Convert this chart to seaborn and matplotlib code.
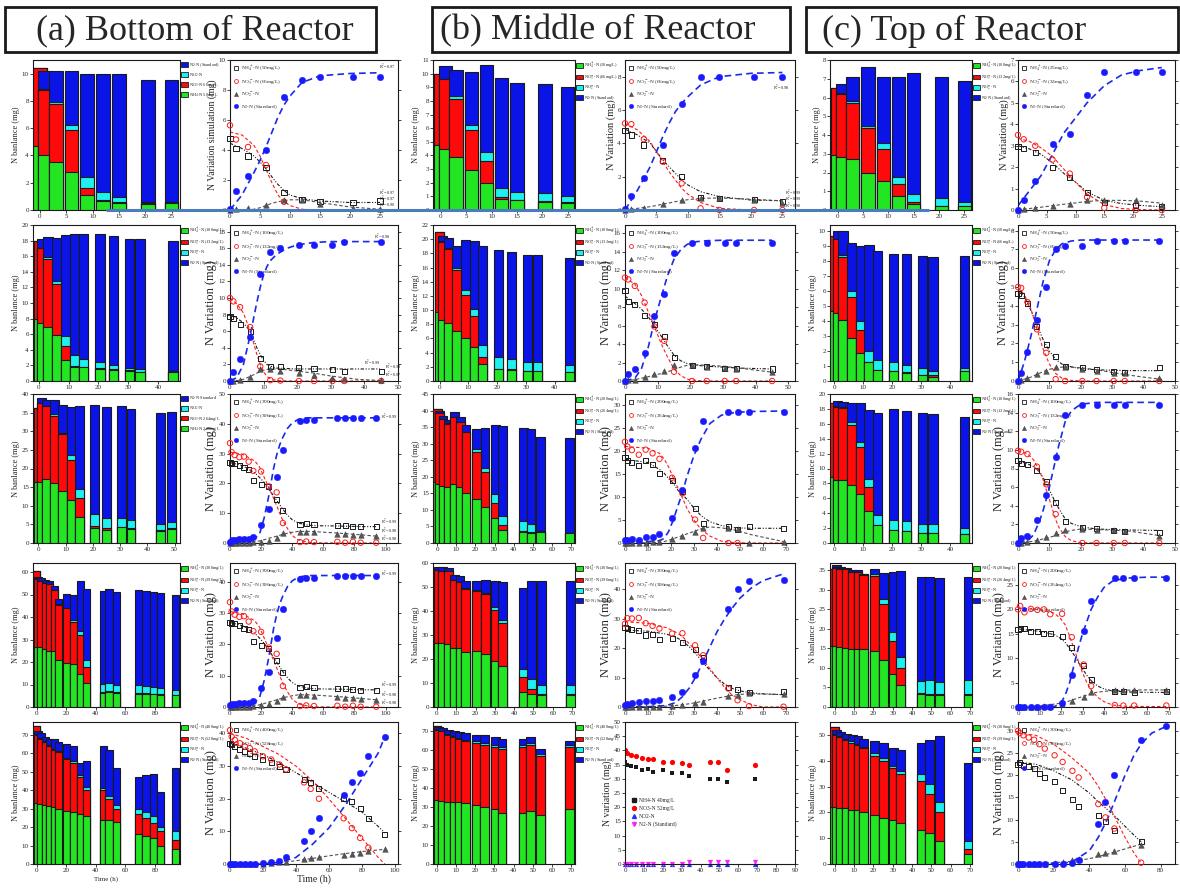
import numpy as np
import matplotlib
matplotlib.use("Agg")
import matplotlib.pyplot as plt
from matplotlib.patches import Patch, Rectangle
from matplotlib.lines import Line2D
import seaborn as sns

sns.set_theme(style="ticks")
plt.rcParams['font.family'] = ['Liberation Serif', 'DejaVu Sans']
plt.rcParams['mathtext.fontset'] = 'stix'

nan = np.nan
# ---------------- time axes ----------------
T9 = [0, 1, 3, 6, 9, 12, 15, 20.5, 25]
T12 = [0, 1, 3, 6, 9, 12, 15, 20.5, 25, 30.5, 34, 45]
T13 = [0, 1, 3, 6, 9, 12, 15, 20.5, 25, 30.5, 34, 45, 49]
T15 = [0, 1, 3, 6, 9, 12, 15, 20.5, 25, 30.5, 34, 45, 49, 54, 69]
T19 = [0, 1, 3, 6, 9, 12, 15, 20, 25, 30, 34, 45, 49, 54, 69, 74, 79, 84, 94]
T16 = [0, 1, 3, 6, 9, 12, 15, 20.5, 25, 30.5, 34, 45, 49, 54, 69, 83]

# ---------------- bar panels: cumulative tops (NH4, NO3, NO2, N2) ----------------
BAR_A1_NH4 = [4.7, 4.0, 3.55, 2.8, 1.1, 0.65, 0.55, 0.45, 0.55]
BAR_A1_NO3 = [10.4, 8.8, 7.75, 5.85, 1.65, 0.72, 0.6, 0.55, 0.6]
BAR_A1_NO2 = [10.4, 8.85, 7.95, 6.2, 2.4, 1.3, 0.95, 0.6, 0.62]
BAR_A1_N2 = [10.4, 10.2, 10.2, 10.2, 10.0, 10.0, 9.95, 9.55, 9.55]

BAR_B1_NH4 = [4.75, 4.5, 3.9, 2.95, 2.0, 0.8, 0.7, 0.6, 0.55]
BAR_B1_NO3 = [10.0, 9.6, 8.15, 5.9, 3.6, 0.92, 0.72, 0.65, 0.57]
BAR_B1_NO2 = [10.0, 9.62, 8.35, 6.2, 4.25, 1.6, 1.3, 1.25, 1.0]
BAR_B1_N2 = [10.0, 10.55, 10.25, 10.1, 10.6, 9.65, 9.35, 9.25, 9.05]

BAR_C1_NH4 = [2.95, 2.85, 2.7, 2.0, 1.55, 0.77, 0.3, 0.2, 0.2]
BAR_C1_NO3 = [6.5, 6.2, 5.7, 4.35, 3.25, 1.37, 0.42, 0.22, 0.22]
BAR_C1_NO2 = [6.5, 6.25, 5.8, 4.5, 3.55, 1.75, 0.87, 0.65, 0.45]
BAR_C1_N2 = [6.5, 6.7, 7.1, 7.65, 7.1, 7.1, 7.3, 7.1, 6.9]

BAR_A2_NH4 = [8.0, 7.5, 6.9, 5.9, 2.7, 1.75, 1.75, 1.6, 1.35, 1.25, 1.1, 1.2]
BAR_A2_NO3 = [17.9, 17.0, 15.7, 12.5, 4.45, 1.9, 1.75, 1.65, 1.5, 1.4, 1.2, 1.22]
BAR_A2_NO2 = [17.9, 17.1, 15.85, 12.85, 5.8, 3.3, 2.8, 2.5, 2.1, 1.7, 1.5, 1.22]
BAR_A2_N2 = [17.9, 18.2, 18.45, 18.3, 18.75, 18.9, 18.85, 18.9, 18.6, 18.25, 18.25, 18.0]

BAR_B2_NH4 = [9.8, 8.6, 8.25, 7.1, 6.1, 4.75, 2.4, 1.7, 1.6, 1.35, 1.35, 1.25]
BAR_B2_NO3 = [21.0, 19.6, 18.6, 15.6, 12.1, 9.1, 3.4, 1.75, 1.65, 1.4, 1.4, 1.3]
BAR_B2_NO2 = [21.0, 19.7, 18.75, 16.0, 12.9, 10.2, 5.1, 3.35, 3.1, 2.7, 2.65, 2.2]
BAR_B2_N2 = [21.0, 20.5, 20.1, 19.0, 19.9, 19.7, 19.0, 18.45, 18.2, 17.8, 17.75, 17.3]

BAR_C2_NH4 = [4.65, 4.55, 4.05, 2.85, 1.85, 1.25, 0.72, 0.65, 0.55, 0.4, 0.3, 0.65]
BAR_C2_NO3 = [9.65, 9.45, 8.25, 5.6, 3.4, 1.3, 0.75, 0.68, 0.6, 0.42, 0.4, 0.7]
BAR_C2_NO2 = [9.65, 9.5, 8.4, 6.0, 4.0, 2.0, 1.4, 1.25, 1.05, 0.85, 0.7, 0.85]
BAR_C2_N2 = [9.65, 10.0, 10.0, 9.2, 9.0, 9.05, 8.65, 8.5, 8.5, 8.35, 8.25, 8.35]

BAR_A3_NH4 = [16.5, 16.5, 17.3, 16.0, 14.0, 11.5, 7.1, 3.9, 3.6, 4.2, 3.8, 3.3, 3.8]
BAR_A3_NO3 = [36.2, 37.5, 36.7, 34.0, 29.2, 22.3, 12.1, 4.5, 3.9, 4.3, 4.0, 3.5, 4.0]
BAR_A3_NO2 = [36.2, 37.6, 36.8, 34.5, 29.6, 23.5, 14.5, 7.8, 6.8, 6.8, 6.1, 5.1, 5.6]
BAR_A3_N2 = [36.2, 38.9, 38.5, 38.5, 37.0, 36.5, 36.7, 37.0, 36.5, 36.7, 36.0, 35.0, 35.3]

BAR_B3_NH4 = [18.5, 17.8, 17.3, 16.8, 17.8, 16.8, 15.0, 13.2, 10.8, 7.4, 4.0, 3.3, 3.0, 3.3, 3.0]
BAR_B3_NO3 = [40.5, 39.2, 37.5, 36.0, 38.0, 36.5, 33.5, 27.5, 21.5, 12.2, 5.3, 3.5, 3.2, 3.4, 3.1]
BAR_B3_NO2 = [40.5, 39.3, 37.6, 36.1, 38.1, 36.6, 33.6, 28.3, 22.8, 14.9, 8.3, 6.5, 5.8, 3.5, 3.1]
BAR_B3_N2 = [40.5, 39.8, 38.5, 37.0, 39.5, 38.0, 35.5, 34.3, 34.7, 35.7, 35.2, 34.8, 34.3, 32.0, 31.7]

BAR_C3_NH4 = [8.8, 8.5, 8.4, 7.75, 6.6, 4.35, 2.35, 1.7, 1.6, 1.3, 1.3, 1.15]
BAR_C3_NO3 = [18.8, 18.3, 18.1, 15.9, 12.95, 7.5, 2.4, 1.75, 1.62, 1.35, 1.32, 1.2]
BAR_C3_NO2 = [18.8, 18.4, 18.2, 16.3, 13.5, 8.55, 3.75, 3.15, 2.9, 2.6, 2.5, 2.05]
BAR_C3_N2 = [18.8, 19.05, 18.9, 18.85, 18.75, 17.8, 17.5, 18.0, 17.75, 17.45, 17.3, 16.9]

BAR_A4_NH4 = [27, 26.5, 26.5, 25.8, 25.0, 24.8, 21.0, 19.5, 19.0, 14.5, 10.8, 6.2, 6.5, 6.3, 5.9, 5.8, 5.7, 5.5, 5.4]
BAR_A4_NO3 = [60.5, 57.0, 56.0, 55.0, 54.5, 52.0, 45.5, 43.8, 37.8, 31.8, 17.7, 6.5, 7.2, 6.5, 6.3, 6.2, 6.0, 5.7, 5.5]
BAR_A4_NO2 = [60.5, 57.2, 56.1, 55.1, 54.6, 52.1, 45.6, 44.2, 38.5, 33.8, 21.0, 10.2, 10.8, 9.7, 9.7, 9.3, 8.9, 8.3, 7.7]
BAR_A4_N2 = [60.5, 57.8, 57.3, 56.6, 55.8, 54.0, 47.8, 50.3, 50.0, 55.8, 52.3, 51.5, 52.4, 51.3, 52.0, 51.4, 51.3, 50.5, 50.0]

BAR_B4_NH4 = [27.0, 26.8, 26.5, 26.3, 24.5, 24.7, 22.8, 23.3, 22.0, 19.3, 17.0, 6.2, 5.3, 5.0, 5.2]
BAR_B4_NO3 = [55.5, 57.0, 56.5, 56.5, 52.8, 52.0, 49.3, 48.3, 47.0, 40.5, 34.8, 12.7, 7.6, 5.5, 5.6]
BAR_B4_NO2 = [55.5, 57.1, 56.6, 56.6, 52.9, 52.1, 49.4, 48.6, 47.5, 41.5, 36.3, 16.0, 11.8, 9.2, 9.2]
BAR_B4_N2 = [55.5, 58.5, 58.5, 58.0, 55.0, 54.5, 52.5, 52.3, 52.8, 52.3, 52.0, 49.5, 52.3, 52.3, 52.5]

BAR_C4_NH4 = [15.5, 15.7, 15.3, 15.2, 14.8, 14.8, 14.7, 14.3, 12.0, 8.5, 5.6, 3.2, 3.0, 3.0, 3.0]
BAR_C4_NO3 = [35.3, 35.5, 35.3, 35.2, 34.5, 34.5, 33.8, 33.5, 26.3, 16.8, 10.0, 3.6, 3.3, 3.2, 3.4]
BAR_C4_NO2 = [35.3, 35.7, 35.6, 35.3, 34.6, 34.6, 33.9, 34.0, 27.5, 19.2, 12.8, 6.6, 6.8, 6.5, 6.8]
BAR_C4_N2 = [35.3, 36.4, 35.8, 35.6, 34.9, 34.9, 34.1, 35.2, 34.2, 34.6, 34.7, 33.2, 33.2, 33.0, 33.2]

BAR_A5_NH4 = [33, 33, 32.5, 32, 31.5, 31, 30, 29, 28, 27, 26, 24, 24, 23, 16, 15, 14, 10, 8]
BAR_A5_NO3 = [75, 70, 68, 66, 64, 62, 61, 57, 55, 47, 40, 40, 35, 30, 27, 25, 22, 18, 13]
BAR_A5_NO2 = [75, 70.5, 68.5, 66.5, 64.5, 62.5, 61.5, 57.5, 56, 48, 42, 41, 37, 32, 30, 28, 26, 20, 18]
BAR_A5_N2 = [75, 72, 71, 69, 68, 68, 66, 65, 64, 55, 56, 64, 62, 52, 47, 48, 49, 39, 52]

BAR_B5_NH4 = [35, 34, 33.5, 33, 33, 32.5, 32, 31, 30, 29, 27, 27, 28, 26, 29]
BAR_B5_NO3 = [73, 71, 70, 68, 67, 66, 65, 64, 63, 62, 61, 62, 63, 57, 62]
BAR_B5_NO2 = [73, 71.5, 70.5, 68.5, 67.5, 66.5, 65.5, 65, 64, 63, 62, 63, 64, 58, 63]
BAR_B5_N2 = [73, 72.5, 72, 71, 70, 69.5, 69, 68, 68, 67, 66, 66, 67, 61, 65]

BAR_C5_NH4 = [22, 22, 21.5, 21.5, 21, 21, 20, 19, 18, 17, 16, 13, 12, 9, 4]
BAR_C5_NO3 = [53, 50, 49, 48, 47, 46, 45, 42, 40, 37, 35, 32, 27, 20, 6]
BAR_C5_NO2 = [53, 50.5, 49.5, 48.5, 47.5, 46.5, 45.5, 43, 41, 38, 36, 35, 31, 24, 9]
BAR_C5_N2 = [53, 52, 51, 50.5, 50, 49.5, 48.5, 47.5, 47, 45, 44, 47, 48, 49.5, 39]

# ---------------- line panels: measured points ----------------
LN_A1_NH4 = [4.75, 4.1, 3.6, 2.85, 1.15, 0.7, 0.55, 0.5, 0.6]
LN_A1_NO3 = [5.65, 4.7, 4.2, 3.0, 0.55, nan, nan, nan, nan]
LN_A1_NO2 = [0.0, 0.08, 0.15, 0.35, 0.65, 0.65, 0.4, 0.15, 0.05]
LN_A1_N2 = [0.1, 1.3, 2.25, 4.0, 7.55, 8.65, 8.9, 8.9, 8.9]

LN_B1_NH4 = [4.75, 4.5, 3.9, 2.95, 2.0, 0.75, 0.7, 0.62, 0.5]
LN_B1_NO3 = [5.2, 5.15, 4.25, 2.9, 1.6, 0.1, 0, 0, 0]
LN_B1_NO2 = [0, 0.05, 0.15, 0.35, 0.6, 0.75, 0.7, 0.6, 0.45]
LN_B1_N2 = [0.05, 0.85, 1.9, 3.9, 6.35, 8.0, 8.0, 8.0, 8.0]

LN_C1_NH4 = [2.95, 2.85, 2.7, 2.0, 1.5, 0.8, 0.35, 0.2, 0.15]
LN_C1_NO3 = [3.5, 3.3, 3.0, 2.35, 1.7, 0.6, 0.1, 0, 0]
LN_C1_NO2 = [0, 0.05, 0.1, 0.2, 0.3, 0.45, 0.45, 0.45, 0.25]
LN_C1_N2 = [0, 0.45, 1.35, 3.1, 3.55, 5.35, 6.45, 6.45, 6.45]

LN_A2_NH4 = [7.8, 7.5, 6.8, 6.0, 2.7, 1.8, 1.8, 1.65, 1.45, 1.35, 1.2, 1.2]
LN_A2_NO3 = [10.0, 9.6, 8.9, 6.5, 1.75, 0.1, 0.05, 0, 0, 0, 0, 0]
LN_A2_NO2 = [0, 0, 0.15, 0.45, 1.4, 1.4, 1.2, 1.0, 0.75, 0.4, 0.2, 0.1]
LN_A2_N2 = [0, 1.1, 2.6, 5.3, 12.9, 15.55, 16.0, 16.35, 16.45, 16.45, 16.75, 16.75]

LN_B2_NH4 = [9.8, 8.6, 8.3, 7.1, 6.1, 4.8, 2.5, 1.7, 1.6, 1.4, 1.35, 1.3]
LN_B2_NO3 = [11.2, 11.0, 10.3, 8.5, 5.9, 4.35, 1.0, 0, 0, 0, 0, 0]
LN_B2_NO2 = [0, 0.1, 0.15, 0.4, 0.8, 1.1, 1.7, 1.7, 1.5, 1.4, 1.3, 1.0]
LN_B2_N2 = [0, 0.8, 1.3, 3.0, 7.0, 9.4, 13.85, 15.0, 15.0, 15.0, 15.0, 15.0]

LN_C2_NH4 = [4.65, 4.55, 4.1, 2.9, 1.95, 1.3, 0.75, 0.7, 0.6, 0.5, 0.45, 0.7]
LN_C2_NO3 = [5.0, 4.95, 4.2, 2.75, 1.5, 0.1, 0, 0, 0, 0, 0, 0]
LN_C2_NO2 = [0, 0.05, 0.15, 0.35, 0.55, 0.72, 0.72, 0.65, 0.55, 0.45, 0.4, 0.15]
LN_C2_N2 = [0, 0.45, 1.55, 3.25, 5.0, 7.0, 7.2, 7.2, 7.45, 7.45, 7.45, 7.45]

LN_A3_NH4 = [27, 26.8, 26.7, 26.0, 25.2, 24.8, 21.0, 19.7, 18.8, 14.7, 11.0, 6.2, 6.5, 6.3, 5.8, 5.8, 5.7, 5.4, 5.4]
LN_A3_NO3 = [33.5, 30.5, 29.5, 28.8, 29.0, 27.3, 24.2, 24.0, 19.0, 17.0, 6.7, 0.3, 0.5, 0.3, 0.4, 0.1, 0.4, 0.1, 0.1]
LN_A3_NO2 = [0, 0, 0, 0, 0, 0.1, 0.2, 0.5, 0.8, 1.8, 3.3, 3.8, 3.8, 3.6, 3.1, 3.0, 2.8, 2.7, 2.2]
LN_A3_N2 = [0.5, 0.9, 1.1, 1.2, 1.3, 1.3, 2.0, 6.0, 11.3, 22.2, 31.2, 41.0, 41.2, 41.2, 42.0, 42.0, 42.0, 42.0, 42.0]

LN_B3_NH4 = [18.5, 18.0, 17.6, 16.9, 18.0, 17.0, 15.1, 13.5, 11.3, 7.5, 4.3, 3.5, 3.0, 3.6, 3.2]
LN_B3_NO3 = [22.0, 21.0, 20.2, 19.2, 20.3, 19.5, 18.3, 14.2, 10.8, 5.1, 1.1, 0, 0, nan, nan]
LN_B3_NO2 = [0, 0.05, 0.1, 0.1, 0.1, 0.15, 0.2, 0.9, 1.5, 2.5, 3.3, 3.3, 3.1, 0.1, 0.2]
LN_B3_N2 = [0.6, 0.7, 0.8, 0.7, 1.2, 1.2, 1.9, 5.5, 11.5, 20.7, 26.6, 28.4, 28.4, 28.4, 28.4]

LN_C3_NH4 = [8.85, 8.5, 8.4, 7.8, 6.65, 4.4, 2.3, 1.7, 1.6, 1.35, 1.25, 1.1]
LN_C3_NO3 = [9.9, 9.8, 9.55, 8.2, 6.3, 3.1, nan, 0, 0, 0, 0, 0]
LN_C3_NO2 = [0, 0.05, 0.1, 0.3, 0.6, 1.1, 1.4, 1.45, 1.4, 1.35, 1.25, 0.8]
LN_C3_N2 = [0, 0.55, 0.75, 2.5, 5.2, 9.2, 13.7, 14.8, 14.8, 14.8, 14.8, 14.8]

LN_B4_NH4 = [27.0, 26.8, 26.4, 26.2, 24.5, 24.8, 22.8, 23.3, 22.0, 19.5, 17.0, 6.5, 5.8, 5.0, 5.3]
LN_B4_NO3 = [28.3, 30.2, 30.1, 30.3, 28.5, 27.6, 26.7, 25.0, 25.1, 21.0, 17.6, 6.3, 2.3, 0.3, 0.1]
LN_B4_NO2 = [0, 0, 0, 0.1, 0.1, 0.1, 0.1, 0.3, 0.6, 1.2, 1.8, 3.6, 4.2, 4.6, 4.3]
LN_B4_N2 = [0.8, 1.0, 1.3, 1.7, 2.0, 2.2, 2.5, 3.5, 5.2, 10.9, 15.5, 33.2, 40.0, 42.8, 43.3]

LN_C4_NH4 = [15.9, 16.0, 16.1, 15.5, 15.5, 15.0, 15.0, 14.5, 12.2, 8.6, 5.7, 3.2, 3.1, 3.0, 3.1]
LN_C4_NO3 = [20.0, 20.7, 19.4, 20.1, 19.9, 20.0, 19.0, 19.1, 14.3, 8.7, 4.3, 0.4, 0.3, 0.3, 0.3]
LN_C4_NO2 = [0, 0.1, 0.1, 0.1, 0.1, 0.15, 0.2, 0.7, 1.3, 2.1, 3.0, 3.4, 3.4, 3.5, 3.5]
LN_C4_N2 = [0, 0, 0, 0, 0, 0, 0, 0.9, 6.6, 15.5, 21.8, 26.4, 26.4, 26.4, 26.5]

LN_A5_NH4 = [37, 36.5, 36, 35, 34.5, 34, 33, 32, 31, 30, 29, 26, 25, 23, 20, 19, 17, 14, 9]
LN_A5_NO3 = [41, 39, 38, 37, 36, 35.5, 34.5, 33, 32, 30.5, 29, 25, 23, 20, 14, 11, 8, 5, nan]
LN_A5_NO2 = [0, 0, 0, 0, 0, 0, 0, 0.1, 0.2, 0.5, 0.7, 1.5, 1.8, 2.0, 2.8, 3.2, 3.5, 4.0, 4.5]
LN_A5_N2 = [0, 0, 0, 0, 0, 0, 0, 0.2, 0.5, 1.0, 2.0, 7, 10, 14, 21, 25, 28, 33, 39]

LN_B5_T = [0, 1, 3, 6, 9, 12, 15, 20, 25, 30, 34, 45, 49, 54, 69]
LN_B5_NH4 = [36, 35, 34.5, 34, 33, 33.5, 32.5, 33, 32, 32, 31, 30, 30, 29, 30]
LN_B5_NO3 = [40, 39, 38.5, 38, 37.5, 37, 37, 36, 36, 35.5, 35, 36, 36, 33, 35]
LN_B5_NO2 = [0, 0, 0, 0, 0, 0, 0, 0, 0, 0, 0, 0, 0, 0, 0]
LN_B5_N2 = [0, 0, 0, 0, 0, 0, 0, 0, 0, 0, 0.8, 0.8, 0.8, 0.8, 0.8]

LN_C5_NH4 = [22.5, 22.8, 22.3, 22.0, 21.5, 20.5, 19.5, 18.5, 16.5, 14.5, 13.0, 11.0, 9.5, 7.5, 5.0, nan]
LN_C5_NO3 = [30.0, 29.5, 29.0, 28.5, 28.0, 27.0, 26.0, 24.5, 23.0, 21.0, 19.5, 13.5, 10.5, 8.0, 0.3, nan]
LN_C5_NO2 = [0, 0, 0, 0, 0, 0, 0.1, 0.2, 0.4, 0.8, 1.2, 2.2, 2.5, 3.0, 4.2, nan]
LN_C5_N2 = [0, 0, 0, 0, 0, 0, 0, 0, 0.1, 0.3, 0.8, 9, 14, 20, 28, 31]

# ---------------- fitted curves (values at knots) ----------------
FIT_A1_T = [0, 2, 4, 5, 6, 7, 8, 9, 10, 12, 15, 20, 25]
FIT_A1_NH4 = [4.45, 4.1, 3.6, 3.2, 2.75, 2.2, 1.7, 1.3, 1.0, 0.75, 0.6, 0.5, 0.5]
FIT_A1_NO3 = [5.2, 5.0, 4.3, 3.6, 2.7, 1.8, 1.0, 0.55, 0.3, 0.05, 0, 0, 0]
FIT_A1_NO2 = [0, 0, 0.05, 0.15, 0.3, 0.45, 0.55, 0.62, 0.68, 0.68, 0.5, 0.2, 0.05]
FIT_A1_N2 = [0, 1.0, 2.5, 3.3, 4.2, 5.2, 6.2, 7.0, 7.6, 8.5, 8.95, 9.1, 9.15]

FIT_B1_T = [0, 2, 4, 5, 6, 7, 8, 9, 10, 12, 15, 20, 25]
FIT_B1_NH4 = [4.85, 4.5, 4.0, 3.5, 3.0, 2.6, 2.2, 1.8, 1.5, 1.1, 0.8, 0.6, 0.55]
FIT_B1_NO3 = [5.2, 4.8, 4.1, 3.5, 2.9, 2.3, 1.8, 1.3, 0.95, 0.45, 0.1, 0, 0]
FIT_B1_NO2 = [0, 0.1, 0.2, 0.27, 0.35, 0.42, 0.5, 0.56, 0.62, 0.7, 0.72, 0.65, 0.55]
FIT_B1_N2 = [0, 1.2, 2.6, 3.5, 4.4, 5.2, 5.9, 6.4, 6.8, 7.5, 8.0, 8.2, 8.25]

FIT_C1_T = [0, 2, 4, 6, 8, 10, 12, 15, 18, 21, 25]
FIT_C1_NH4 = [3.0, 2.85, 2.6, 2.2, 1.7, 1.3, 0.85, 0.45, 0.3, 0.22, 0.15]
FIT_C1_NO3 = [3.35, 3.2, 2.9, 2.5, 1.9, 1.3, 0.75, 0.25, 0.07, 0.02, 0]
FIT_C1_NO2 = [0, 0.07, 0.13, 0.2, 0.27, 0.33, 0.4, 0.45, 0.45, 0.42, 0.32]
FIT_C1_N2 = [0.2, 0.9, 1.6, 2.6, 3.6, 4.3, 5.0, 5.8, 6.3, 6.5, 6.65]

FIT_A2_T = [0, 2, 4, 6, 7, 8, 9, 10, 11, 12, 14, 17, 20, 25, 30, 38, 45]
FIT_A2_NH4 = [8.0, 7.6, 7.0, 6.0, 5.0, 4.0, 3.2, 2.5, 2.0, 1.8, 1.55, 1.5, 1.45, 1.45, 1.45, 1.45, 1.45]
FIT_A2_NO3 = [10.0, 9.3, 8.2, 6.0, 4.6, 3.2, 2.0, 1.1, 0.55, 0.25, 0.05, 0, 0, 0, 0, 0, 0]
FIT_A2_NO2 = [0, 0.05, 0.2, 0.55, 0.75, 0.95, 1.15, 1.3, 1.4, 1.45, 1.45, 1.35, 1.2, 0.95, 0.6, 0.2, 0.05]
FIT_A2_N2 = [0, 0.4, 2.0, 5.5, 7.5, 9.5, 11.3, 12.8, 13.8, 14.5, 15.3, 16.0, 16.4, 16.7, 16.8, 16.8, 16.8]

FIT_B2_T = [0, 3, 5, 7, 9, 11, 13, 15, 17, 19, 22, 25, 30, 35, 45]
FIT_B2_NH4 = [9.2, 8.4, 7.8, 7.0, 6.0, 4.9, 3.8, 2.8, 2.2, 1.9, 1.7, 1.6, 1.5, 1.4, 1.3]
FIT_B2_NO3 = [11.2, 10.5, 9.3, 7.6, 5.9, 4.1, 2.6, 1.3, 0.6, 0.2, 0.05, 0, 0, 0, 0]
FIT_B2_NO2 = [0, 0.15, 0.3, 0.45, 0.65, 0.8, 1.0, 1.25, 1.5, 1.7, 1.75, 1.7, 1.6, 1.4, 0.95]
FIT_B2_N2 = [0, 0.3, 1.3, 3.5, 6.5, 9.0, 11.4, 13.2, 14.2, 14.8, 15.1, 15.2, 15.25, 15.25, 15.25]

FIT_C2_T = [0, 2, 4, 6, 8, 10, 12, 14, 17, 20, 25, 30, 38, 45]
FIT_C2_NH4 = [4.8, 4.5, 3.8, 3.0, 2.2, 1.6, 1.15, 0.9, 0.75, 0.65, 0.6, 0.57, 0.55, 0.55]
FIT_C2_NO3 = [5.0, 4.6, 3.9, 2.8, 1.7, 0.9, 0.4, 0.15, 0.03, 0, 0, 0, 0, 0]
FIT_C2_NO2 = [0, 0.1, 0.2, 0.35, 0.5, 0.62, 0.7, 0.74, 0.74, 0.7, 0.6, 0.45, 0.25, 0.1]
FIT_C2_N2 = [0, 1.0, 2.3, 3.8, 5.3, 6.4, 7.0, 7.3, 7.45, 7.5, 7.5, 7.5, 7.5, 7.5]

FIT_A3_T = [0, 8, 16, 19, 22, 25, 28, 30, 32, 34, 37, 40, 44, 50, 55, 70, 85, 94]
FIT_A3_NH4 = [27.0, 26.0, 23.5, 22.0, 20.3, 18.2, 15.8, 14.3, 12.8, 11.3, 9.3, 7.8, 6.7, 6.0, 5.8, 5.7, 5.5, 5.5]
FIT_A3_NO3 = [30.5, 29.8, 27.5, 25.5, 22.0, 18.5, 15.0, 12.5, 10.0, 7.5, 4.8, 2.5, 1.0, 0.3, 0.05, 0, 0, 0]
FIT_A3_NO2 = [0, 0.1, 0.4, 0.7, 1.1, 1.6, 2.0, 2.3, 2.6, 2.9, 3.3, 3.6, 3.9, 3.9, 3.8, 3.3, 2.7, 2.3]
FIT_A3_N2 = [0.2, 0.6, 1.5, 3.0, 8.5, 16.0, 25.0, 29.5, 33.0, 35.5, 38.5, 40.3, 41.5, 42.0, 42.0, 42.0, 42.0, 42.0]

FIT_B3_T = [0, 10, 15, 17, 19, 21, 23, 25, 27, 30, 33, 37, 42, 48, 55, 69]
FIT_B3_NH4 = [18.2, 17.5, 16.0, 15.2, 14.0, 13.0, 11.5, 10.5, 9.5, 7.6, 6.0, 4.6, 3.8, 3.3, 3.2, 3.2]
FIT_B3_NO3 = [21.0, 20.6, 19.5, 18.3, 16.5, 14.2, 12.0, 9.8, 7.5, 5.0, 3.0, 1.5, 0.4, 0.05, 0, 0]
FIT_B3_NO2 = [0, 0.05, 0.1, 0.3, 0.6, 0.9, 1.3, 1.6, 2.0, 2.5, 3.1, 3.5, 3.3, 2.8, 1.8, 0.3]
FIT_B3_N2 = [0.3, 0.3, 0.5, 1.0, 2.5, 5.0, 8.0, 11.0, 14.5, 19.0, 22.5, 26.0, 27.8, 28.4, 28.6, 28.7]

FIT_C3_T = [0, 3, 5, 7, 8, 9, 10, 11, 12, 13, 15, 17, 20, 25, 35, 45]
FIT_C3_NH4 = [8.8, 8.5, 8.2, 7.6, 7.0, 6.4, 5.7, 5.0, 4.3, 3.7, 2.6, 2.1, 1.75, 1.5, 1.4, 1.35]
FIT_C3_NO3 = [9.9, 9.6, 8.9, 7.6, 6.8, 5.7, 4.7, 3.6, 2.5, 1.7, 0.7, 0.25, 0.03, 0, 0, 0]
FIT_C3_NO2 = [0, 0.1, 0.2, 0.35, 0.45, 0.55, 0.6, 0.7, 0.8, 0.9, 1.2, 1.35, 1.5, 1.45, 1.3, 0.8]
FIT_C3_N2 = [0, 0.2, 0.9, 2.5, 3.5, 4.7, 6.0, 7.5, 9.0, 10.5, 13.0, 14.2, 14.9, 15.1, 15.1, 15.1]

FIT_B4_T = [0, 10, 18, 22, 25, 28, 31, 34, 37, 40, 43, 46, 50, 55, 60, 69]
FIT_B4_NH4 = [26.2, 25.8, 24.8, 23.8, 22.5, 20.5, 18.0, 15.0, 12.5, 10.0, 8.0, 6.5, 5.5, 4.8, 4.5, 4.2]
FIT_B4_NO3 = [29.0, 28.5, 27.0, 25.5, 24.0, 21.5, 19.0, 16.0, 13.0, 10.0, 7.0, 4.5, 2.5, 0.8, 0.0, 0.0]
FIT_B4_NO2 = [0, 0.1, 0.3, 0.5, 0.8, 1.1, 1.5, 2.0, 2.5, 3.0, 3.4, 3.9, 4.3, 4.5, 4.4, 4.2]
FIT_B4_N2 = [0, 0.1, 0.5, 1.5, 3.5, 6.5, 10.5, 15.5, 20.5, 25.5, 29.5, 33.0, 37.0, 40.5, 43.0, 45.3]

FIT_C4_T = [0, 10, 17, 20, 22, 24, 26, 28, 30, 32, 34, 37, 40, 44, 50, 60, 69]
FIT_C4_NH4 = [16.0, 15.5, 14.8, 14.0, 13.2, 12.0, 10.7, 9.2, 7.8, 6.5, 5.4, 4.3, 3.7, 3.3, 3.1, 3.0, 3.0]
FIT_C4_NO3 = [20.2, 20.0, 19.2, 18.0, 16.8, 14.5, 12.0, 9.5, 7.0, 5.0, 3.5, 2.0, 1.1, 0.4, 0.15, 0.1, 0.1]
FIT_C4_NO2 = [0, 0.2, 0.6, 0.8, 1.0, 1.25, 1.55, 1.85, 2.15, 2.45, 2.75, 3.05, 3.2, 3.35, 3.45, 3.5, 3.5]
FIT_C4_N2 = [0, 0, 0.1, 0.8, 2.5, 5.0, 8.5, 12.0, 15.0, 17.5, 20.0, 22.5, 24.5, 25.8, 26.4, 26.6, 26.6]

FIT_A5_T = [0, 10, 20, 30, 40, 50, 60, 70, 80, 90, 94]
FIT_A5_NH4 = [37.0, 35.5, 33.5, 31.0, 28.0, 25.0, 22.0, 19.0, 16.0, 11.5, 9.5]
FIT_A5_NO3 = [40.0, 38.5, 36.0, 33.5, 30.0, 25.5, 20.0, 14.0, 8.0, 2.0, 0.0]
FIT_A5_NO2 = [0, 0, 0.1, 0.4, 1.0, 1.7, 2.5, 3.2, 3.8, 4.3, 4.5]
FIT_A5_N2 = [0, 0, 0.1, 0.5, 2.0, 6.0, 11.0, 18.0, 26.0, 34.0, 39.0]

FIT_C5_T = [0, 10, 20, 30, 40, 45, 50, 55, 60, 65, 69, 75, 83]
FIT_C5_NH4 = [23.0, 22.5, 21.0, 19.0, 16.0, 14.0, 12.3, 10.5, 8.5, 6.5, 5.0, nan, nan]
FIT_C5_NO3 = [29.5, 29.0, 27.0, 24.0, 20.5, 17.5, 14.0, 10.0, 6.0, 2.5, 0.2, nan, nan]
FIT_C5_NO2 = [0, 0.1, 0.3, 0.6, 1.2, 1.7, 2.2, 2.8, 3.4, 4.0, 4.5, nan, nan]
FIT_C5_N2 = [0, 0, 0.1, 0.4, 3.0, 6.0, 10.0, 15.0, 20.0, 24.5, 27.0, 29.5, 31.0]

# ---------------- legend text ----------------
def bar_labels(a, b):
    return [f"NH$_4^+$-N ({a}mg/L)", f"NO$_3^-$-N ({b}mg/L)", "NO$_2^-$-N", "N$_2$-N (Standard)"]

# ---------------- styling ----------------
W, H = 1180, 890
C_NH4, C_NO3, C_NO2, C_N2 = "#22e622", "#ff0a0a", "#1ef0f0", "#0a14e6"
fig = plt.figure(figsize=(W / 100, H / 100), dpi=100)

ROWS = [(60, 210), (225, 381), (394, 543), (563, 707), (722, 864)]
COLS = {"bar_a": (33, 180), "line_a": (230, 398), "bar_b": (433, 575),
        "line_b": (625, 795), "bar_c": (830, 972), "line_c": (1018, 1175)}


def px_axes(col, row):
    l, r = COLS[col]
    t, b = ROWS[row]
    return fig.add_axes([l / W, 1 - b / H, (r - l) / W, (b - t) / H])


def style_axes(ax, xlim, xstep, ylim, ystep, right_ticks=False):
    ax.set_xlim(*xlim)
    ax.set_ylim(*ylim)
    ax.set_xticks(np.arange(0, xlim[1] + 1e-6, xstep))
    ax.set_yticks(np.arange(0, ylim[1] + 1e-6, ystep))
    ax.tick_params(labelsize=5, length=2, width=0.6, pad=1, right=right_ticks)
    for s in ax.spines.values():
        s.set_linewidth(0.8)
        s.set_color("k")
        s.set_visible(True)
    ax.set_xlabel("")


def bar_panel(col, row, t, nh4, no3, no2, n2, width, xlim, xstep, ylim, ystep, labels, blue_first=False):
    ax = px_axes(col, row)
    for i in range(len(t)):
        for top, c in ((n2[i], C_N2), (no2[i], C_NO2), (no3[i], C_NO3), (nh4[i], C_NH4)):
            ax.bar(t[i], top, width=width, color=c, edgecolor="k", linewidth=0.8, zorder=2 + i)
    style_axes(ax, xlim, xstep, ylim, ystep)
    ax.set_ylabel("N banlance (mg)", fontsize=6, labelpad=1)
    cols = [C_NH4, C_NO3, C_NO2, C_N2]
    handles = [Patch(facecolor=c, edgecolor="k", linewidth=0.6) for c in cols]
    if blue_first:
        handles, labels = handles[::-1], labels[::-1]
    ax.legend(handles, labels, loc="upper left", bbox_to_anchor=(1.0, 1.0), fontsize=3.2,
              frameon=False, handlelength=1.5, handleheight=1.3, labelspacing=0.5,
              borderaxespad=0.1, borderpad=0.1, handletextpad=0.25)
    return ax


def line_panel(col, row, t, nh4, no3, no2, n2, ft, fnh4, fno3, fno2, fn2,
               xlim, xstep, ylim, ystep, labels, ylabel="N Variation (mg)", ylfs=9, r2=()):
    ax = px_axes(col, row)
    ft = np.asarray(ft, float)
    for fy, c, ls, lw in ((fnh4, "k", (0, (3, 1.5, 1, 1.5, 1, 1.5)), 0.8),
                          (fno3, "#ff1a1a", (0, (3, 2)), 0.8),
                          (fno2, "#505050", (0, (3, 2)), 0.8),
                          (fn2, "#1a2ae8", (0, (4, 2.5)), 1.2)):
        fy = np.asarray(fy, float)
        m = np.isfinite(fy)
        sns.lineplot(x=ft[m], y=fy[m], ax=ax, color=c, linestyle=ls, linewidth=lw,
                     errorbar=None, sort=False, legend=False)
    sns.scatterplot(x=t, y=nh4, ax=ax, marker="s", s=13, color="k", facecolor="none",
                    edgecolor="k", linewidth=0.7, zorder=5, clip_on=False, legend=False)
    sns.scatterplot(x=t, y=no3, ax=ax, marker="o", s=15, color="r", facecolor="none",
                    edgecolor="#ff1a1a", linewidth=0.7, zorder=5, clip_on=False, legend=False)
    sns.scatterplot(x=t, y=no2, ax=ax, marker="^", s=16, color="#555555",
                    edgecolor="#333333", linewidth=0.3, zorder=5, clip_on=False, legend=False)
    sns.scatterplot(x=t, y=n2, ax=ax, marker="o", s=22, color="#1a1aff",
                    edgecolor="#1a1aff", linewidth=0.3, zorder=6, clip_on=False, legend=False)
    style_axes(ax, xlim, xstep, ylim, ystep, right_ticks=True)
    ax.set_ylabel(ylabel, fontsize=ylfs, labelpad=1)
    handles = [Line2D([], [], ls="none", marker="s", mfc="none", mec="k", ms=2.6, mew=0.6),
               Line2D([], [], ls="none", marker="o", mfc="none", mec="#ff1a1a", ms=2.8, mew=0.6),
               Line2D([], [], ls="none", marker="^", mfc="#555555", mec="#333333", ms=3.0, mew=0.3),
               Line2D([], [], ls="none", marker="o", mfc="#1a1aff", mec="#1a1aff", ms=3.2, mew=0.3)]
    ax.legend(handles, labels, loc="upper left", fontsize=3.8, frameon=False,
              labelspacing=0.75, handletextpad=0.4, borderaxespad=0.3, handlelength=1.0)
    for txt, x, y in r2:
        ax.text(x, y, txt, fontsize=3.2, ha="left", va="center")
    return ax


# ---------------- row 1 ----------------
bar_panel("bar_a", 0, T9, BAR_A1_NH4, BAR_A1_NO3, BAR_A1_NO2, BAR_A1_N2, 2.6,
          (-1.3, 26.6), 5, (0, 11), 2,
          ["NH$_4$-N 50mg/L", "NO$_3$-N 66mg/L", "NO$_2$-N", "N$_2$-N (Standard)"], blue_first=True)
line_panel("line_a", 0, T9, LN_A1_NH4, LN_A1_NO3, LN_A1_NO2, LN_A1_N2,
           FIT_A1_T, FIT_A1_NH4, FIT_A1_NO3, FIT_A1_NO2, FIT_A1_N2,
           (0, 28), 5, (0, 10), 2, bar_labels(50, 66), ylabel="N Variation simulation (mg)", ylfs=7,
           r2=(("R$^2$=0.97", 24.8, 9.55), ("R$^2$=0.97", 24.8, 1.15),
               ("R$^2$=0.97", 24.8, 0.75), ("R$^2$=0.90", 24.8, 0.35)))
bar_panel("bar_b", 0, T9, BAR_B1_NH4, BAR_B1_NO3, BAR_B1_NO2, BAR_B1_N2, 2.6,
          (-1.5, 26.4), 5, (0, 11), 1, bar_labels(50, 66))
line_panel("line_b", 0, T9, LN_B1_NH4, LN_B1_NO3, LN_B1_NO2, LN_B1_N2,
           FIT_B1_T, FIT_B1_NH4, FIT_B1_NO3, FIT_B1_NO2, FIT_B1_N2,
           (0, 27), 5, (0, 9), 2, bar_labels(50, 66), ylfs=7.5,
           r2=(("R$^2$=0.98", 23.5, 7.3), ("R$^2$=0.99", 25.4, 1.0),
               ("R$^2$=0.99", 25.4, 0.65), ("R$^2$=0.98", 25.4, 0.25)))
bar_panel("bar_c", 0, T9, BAR_C1_NH4, BAR_C1_NO3, BAR_C1_NO2, BAR_C1_N2, 2.6,
          (-1.5, 26.5), 5, (0, 8), 1, bar_labels(100, 132))
line_panel("line_c", 0, T9, LN_C1_NH4, LN_C1_NO3, LN_C1_NO2, LN_C1_N2,
           FIT_C1_T, FIT_C1_NH4, FIT_C1_NO3, FIT_C1_NO2, FIT_C1_N2,
           (0, 27.3), 5, (0, 7), 1, bar_labels(25, 33), ylfs=7.5)

# ---------------- row 2 ----------------
bar_panel("bar_a", 1, T12, BAR_A2_NH4, BAR_A2_NO3, BAR_A2_NO2, BAR_A2_N2, 3.2,
          (-2, 47.4), 10, (0, 20), 2, bar_labels(100, 132))
line_panel("line_a", 1, T12, LN_A2_NH4, LN_A2_NO3, LN_A2_NO2, LN_A2_N2,
           FIT_A2_T, FIT_A2_NH4, FIT_A2_NO3, FIT_A2_NO2, FIT_A2_N2,
           (0, 50), 10, (0, 18.8), 2, bar_labels(100, 132),
           r2=(("R$^2$=0.98", 43, 17.3), ("R$^2$=0.99", 40, 2.1),
               ("R$^2$=0.99", 46.2, 1.7), ("R$^2$=0.97", 46.2, 0.65)))
bar_panel("bar_b", 1, T12, BAR_B2_NH4, BAR_B2_NO3, BAR_B2_NO2, BAR_B2_N2, 3.2,
          (-2.3, 47), 10, (0, 22), 2, bar_labels(100, 132))
line_panel("line_b", 1, T12, LN_B2_NH4, LN_B2_NO3, LN_B2_NO2, LN_B2_N2,
           FIT_B2_T, FIT_B2_NH4, FIT_B2_NO3, FIT_B2_NO2, FIT_B2_N2,
           (0, 52), 10, (0, 16.9), 2, bar_labels(100, 132))
bar_panel("bar_c", 1, T12, BAR_C2_NH4, BAR_C2_NO3, BAR_C2_NO2, BAR_C2_N2, 3.2,
          (-1.5, 47.5), 10, (0, 10.4), 1, bar_labels(50, 66))
line_panel("line_c", 1, T12, LN_C2_NH4, LN_C2_NO3, LN_C2_NO2, LN_C2_N2,
           FIT_C2_T, FIT_C2_NH4, FIT_C2_NO3, FIT_C2_NO2, FIT_C2_N2,
           (0, 50), 10, (0, 8.3), 1, bar_labels(50, 66))

# ---------------- row 3 ----------------
bar_panel("bar_a", 2, T13, BAR_A3_NH4, BAR_A3_NO3, BAR_A3_NO2, BAR_A3_N2, 3.3,
          (-2, 52), 10, (0, 40), 5,
          ["NH$_4$-N 200mg/L", "NO$_3$-N 264mg/L", "NO$_2$-N", "N$_2$-N Standard"], blue_first=True)
R2_A = (("R$^2$=0.99", 97, 42.3), ("R$^2$=0.99", 97, 7.0), ("R$^2$=0.98", 97, 3.8), ("R$^2$=0.98", 97, 1.2))
line_panel("line_a", 2, T19, LN_A3_NH4, LN_A3_NO3, LN_A3_NO2, LN_A3_N2,
           FIT_A3_T, FIT_A3_NH4, FIT_A3_NO3, FIT_A3_NO2, FIT_A3_N2,
           (0, 108), 20, (0, 50), 10, bar_labels(300, 396), r2=R2_A)
bar_panel("bar_b", 2, T15, BAR_B3_NH4, BAR_B3_NO3, BAR_B3_NO2, BAR_B3_N2, 4.6,
          (-2.2, 72), 10, (0, 45), 5, bar_labels(200, 264))
line_panel("line_b", 2, T15, LN_B3_NH4, LN_B3_NO3, LN_B3_NO2, LN_B3_N2,
           FIT_B3_T, FIT_B3_NH4, FIT_B3_NO3, FIT_B3_NO2, FIT_B3_N2,
           (0, 74), 10, (0, 32.4), 5, bar_labels(200, 264))
bar_panel("bar_c", 2, T12, BAR_C3_NH4, BAR_C3_NO3, BAR_C3_NO2, BAR_C3_N2, 3.2,
          (-1.5, 47.5), 10, (0, 20), 2, bar_labels(100, 132))
line_panel("line_c", 2, T12, LN_C3_NH4, LN_C3_NO3, LN_C3_NO2, LN_C3_N2,
           FIT_C3_T, FIT_C3_NH4, FIT_C3_NO3, FIT_C3_NO2, FIT_C3_N2,
           (0, 50), 10, (0, 16), 2, bar_labels(100, 132))

# ---------------- row 4 ----------------
bar_panel("bar_a", 3, T19, BAR_A4_NH4, BAR_A4_NO3, BAR_A4_NO2, BAR_A4_N2, 4.8,
          (-2.4, 97), 20, (0, 64), 10, bar_labels(300, 396))
line_panel("line_a", 3, T19, LN_A3_NH4, LN_A3_NO3, LN_A3_NO2, LN_A3_N2,
           FIT_A3_T, FIT_A3_NH4, FIT_A3_NO3, FIT_A3_NO2, FIT_A3_N2,
           (0, 108), 20, (0, 46), 10, bar_labels(300, 396), r2=R2_A)
bar_panel("bar_b", 3, T15, BAR_B4_NH4, BAR_B4_NO3, BAR_B4_NO2, BAR_B4_N2, 4.6,
          (-2, 71.5), 10, (0, 60), 10, bar_labels(300, 396))
line_panel("line_b", 3, T15, LN_B4_NH4, LN_B4_NO3, LN_B4_NO2, LN_B4_N2,
           FIT_B4_T, FIT_B4_NH4, FIT_B4_NO3, FIT_B4_NO2, FIT_B4_N2,
           (0, 74), 10, (0, 49), 10, bar_labels(300, 396))
bar_panel("bar_c", 3, T15, BAR_C4_NH4, BAR_C4_NO3, BAR_C4_NO2, BAR_C4_N2, 4.6,
          (-2.5, 71), 10, (0, 36.8), 5, bar_labels(200, 264))
line_panel("line_c", 3, T15, LN_C4_NH4, LN_C4_NO3, LN_C4_NO2, LN_C4_N2,
           FIT_C4_T, FIT_C4_NH4, FIT_C4_NO3, FIT_C4_NO2, FIT_C4_N2,
           (0, 73), 10, (0, 29.5), 5, bar_labels(200, 264))

# ---------------- row 5 ----------------
ax = bar_panel("bar_a", 4, T19, BAR_A5_NH4, BAR_A5_NO3, BAR_A5_NO2, BAR_A5_N2, 4.8,
               (-2.4, 97), 20, (0, 77), 10, bar_labels(400, 528))
ax.set_xlabel("Time (h)", fontsize=5, labelpad=2)
ax = line_panel("line_a", 4, T19, LN_A5_NH4, LN_A5_NO3, LN_A5_NO2, LN_A5_N2,
                FIT_A5_T, FIT_A5_NH4, FIT_A5_NO3, FIT_A5_NO2, FIT_A5_N2,
                (0, 102), 20, (0, 43.5), 10, bar_labels(400, 528))
ax.set_xlabel("Time (h)", fontsize=7, labelpad=1)
bar_panel("bar_b", 4, T15, BAR_B5_NH4, BAR_B5_NO3, BAR_B5_NO2, BAR_B5_N2, 4.6,
          (-2, 72), 10, (0, 75), 10, bar_labels(400, 528))

ax = px_axes("line_b", 4)
sns.scatterplot(x=LN_B5_T, y=LN_B5_NH4, ax=ax, marker="s", s=12, color="k", linewidth=0, legend=False)
sns.scatterplot(x=LN_B5_T, y=LN_B5_NO3, ax=ax, marker="o", s=14, color="#ff0000", linewidth=0, legend=False)
sns.scatterplot(x=LN_B5_T, y=LN_B5_NO2, ax=ax, marker="^", s=14, color="#2030ff", linewidth=0,
                clip_on=False, legend=False)
sns.scatterplot(x=LN_B5_T, y=LN_B5_N2, ax=ax, marker="v", s=14, color="#ff20ff", linewidth=0,
                clip_on=False, legend=False)
style_axes(ax, (0, 90), 10, (0, 50), 5, right_ticks=True)
ax.set_ylabel("N variation (mg)", fontsize=7, labelpad=1)
h5 = [Line2D([], [], ls="none", marker="s", color="k", ms=2.6),
      Line2D([], [], ls="none", marker="o", color="#ff0000", ms=2.8),
      Line2D([], [], ls="none", marker="^", color="#2030ff", ms=2.8),
      Line2D([], [], ls="none", marker="v", color="#ff20ff", ms=2.8)]
ax.legend(h5, ["NH4-N 40mg/L", "NO3-N 52mg/L", "NO2-N", "N2-N (Standard)"], loc="upper left",
          bbox_to_anchor=(0.01, 0.5), fontsize=4, frameon=False, labelspacing=0.5,
          handletextpad=0.3, handlelength=1.0)

bar_panel("bar_c", 4, T15, BAR_C5_NH4, BAR_C5_NO3, BAR_C5_NO2, BAR_C5_N2, 4.6,
          (-2.5, 71), 10, (0, 55), 10, bar_labels(300, 396))
line_panel("line_c", 4, T16, LN_C5_NH4, LN_C5_NO3, LN_C5_NO2, LN_C5_N2,
           FIT_C5_T, FIT_C5_NH4, FIT_C5_NO3, FIT_C5_NO2, FIT_C5_N2,
           (0, 88), 20, (0, 32), 5, bar_labels(300, 396))

# ---------------- header boxes ----------------
HEADERS = [("(a) Bottom of Reactor", 5, 376, 36), ("(b) Middle of Reactor", 432, 790, 440),
           ("(c) Top of Reactor", 806, 1178, 822)]
for txt, l, r, tx in HEADERS:
    fig.add_artist(Rectangle((l / W, 1 - 52 / H), (r - l) / W, 45 / H, transform=fig.transFigure,
                             fill=False, edgecolor="k", linewidth=2))
    fig.text(tx / W, 1 - 31 / H, txt, fontsize=26, ha="left", va="center",
             family=["Liberation Serif", "DejaVu Serif"])

# stray blue rule across the first row
fig.add_artist(Line2D([107 / W, 928 / W], [1 - 210 / H, 1 - 210 / H], transform=fig.transFigure,
                      color="#4a7ebb", linewidth=2.2, zorder=20))

fig.savefig("out.png", dpi=100)
